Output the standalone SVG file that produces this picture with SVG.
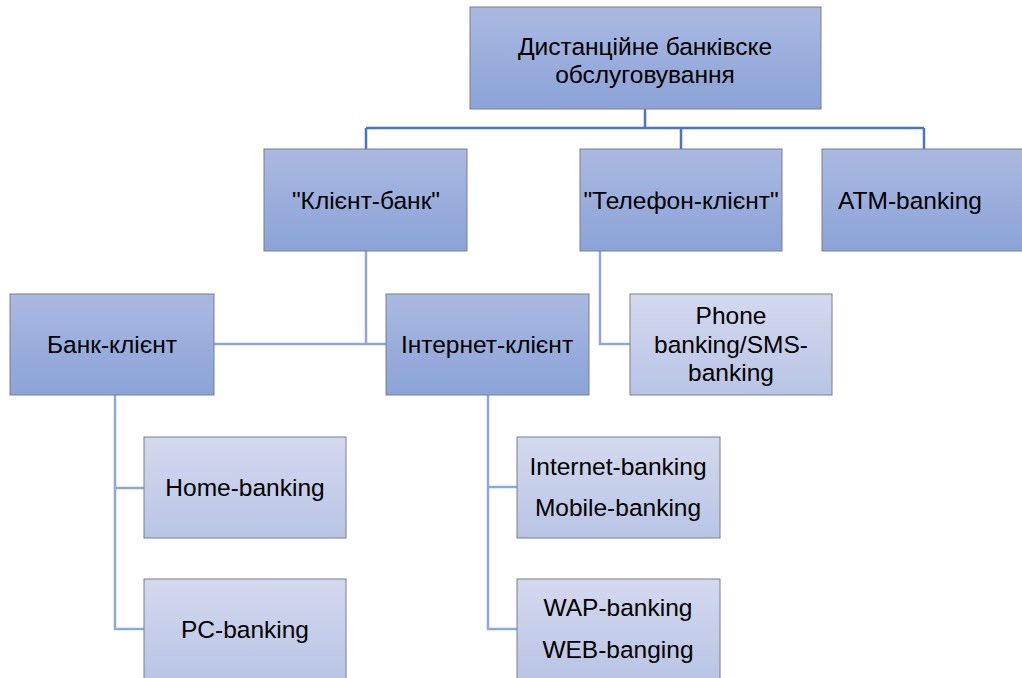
<svg xmlns="http://www.w3.org/2000/svg" width="1022" height="678" viewBox="0 0 1022 678">
<defs>
<linearGradient id="gDark" x1="0" y1="0" x2="0" y2="1">
<stop offset="0" stop-color="#aab9e1"/>
<stop offset="1" stop-color="#8ba3d8"/>
</linearGradient>
<linearGradient id="gLight" x1="0" y1="0" x2="0" y2="1">
<stop offset="0" stop-color="#d3d9ee"/>
<stop offset="1" stop-color="#b9c4e5"/>
</linearGradient>
</defs>
<style>
.dark{fill:url(#gDark);stroke:#7a7f8c;stroke-width:1}
.light{fill:url(#gLight);stroke:#7a7f8c;stroke-width:1}
.t{font-family:"Liberation Sans","DejaVu Sans",sans-serif;font-size:24.5px;fill:#000;text-anchor:middle}
.c1{fill:none;stroke:#4a74c4;stroke-width:2.5}
.c2{fill:none;stroke:#8fa8da;stroke-width:2.5}
</style>
<rect width="1022" height="678" fill="#fff"/>
<g id="connectors">
<path class="c1" d="M645 109V128M366 128H924M366 128V149M681 128V149M924 128V149"/>
<path class="c2" d="M366 251V344M214 344H386"/>
<path class="c2" d="M600 251V344H630"/>
<path class="c2" d="M115 395V629H144M115 488H144"/>
<path class="c2" d="M488 395V629H517M488 487H517"/>
</g>
<g id="n-root">
<rect class="dark" x="470" y="7" width="351" height="102"/>
<text class="t" x="645" y="55">Дистанційне банківске</text>
<text class="t" x="645" y="83">обслуговування</text>
</g>
<g id="n-klient-bank">
<rect class="dark" x="264" y="149" width="203" height="102"/>
<text class="t" x="366" y="209">"Клієнт-банк"</text>
</g>
<g id="n-telefon">
<rect class="dark" x="580" y="149" width="202" height="102"/>
<text class="t" x="681" y="209">"Телефон-клієнт"</text>
</g>
<g id="n-atm">
<rect class="dark" x="822" y="149" width="202" height="102"/>
<text class="t" x="910" y="209">ATM-banking</text>
</g>
<g id="n-bank-klient">
<rect class="dark" x="10" y="294" width="204" height="101"/>
<text class="t" x="112" y="353">Банк-клієнт</text>
</g>
<g id="n-internet-klient">
<rect class="dark" x="386" y="294" width="203" height="101"/>
<text class="t" x="487" y="353">Інтернет-клієнт</text>
</g>
<g id="n-phone">
<rect class="light" x="630" y="294" width="202" height="101"/>
<text class="t" x="731" y="324">Phone</text>
<text class="t" x="731" y="353">banking/SMS-</text>
<text class="t" x="731" y="381">banking</text>
</g>
<g id="n-home">
<rect class="light" x="144" y="437" width="202" height="101"/>
<text class="t" x="245" y="496">Home-banking</text>
</g>
<g id="n-pc">
<rect class="light" x="144" y="579" width="202" height="101"/>
<text class="t" x="245" y="638">PC-banking</text>
</g>
<g id="n-internet-mobile">
<rect class="light" x="517" y="437" width="203" height="101"/>
<text class="t" x="618" y="475">Internet-banking</text>
<text class="t" x="618" y="516">Mobile-banking</text>
</g>
<g id="n-wap-web">
<rect class="light" x="517" y="579" width="203" height="101"/>
<text class="t" x="618" y="616">WAP-banking</text>
<text class="t" x="618" y="658">WEB-banging</text>
</g>
</svg>
